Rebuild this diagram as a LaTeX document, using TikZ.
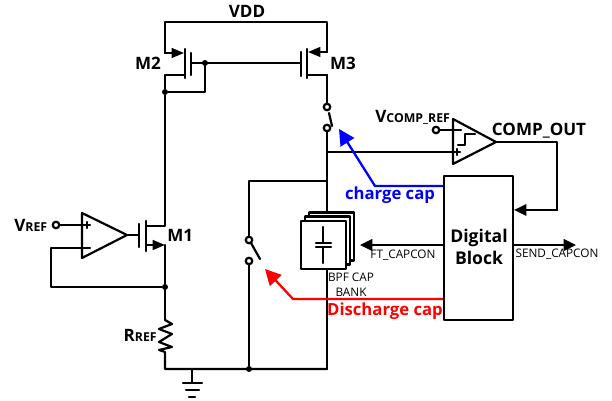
\documentclass[tikz,border=0pt]{standalone}
\usepackage{fontspec}
\usepackage{tikz}
\usetikzlibrary{arrows.meta}
\setmainfont{Open Sans}
\newcommand{\subtxt}[1]{{\fontsize{7}{8}\selectfont #1}}
\tikzset{
  wire/.style={black,line width=1.25pt,line cap=round,line join=round},
  pmos/.style={wire,-{Triangle[length=7pt,width=5.5pt]}},
  sigarrow/.style={wire,-{Triangle[length=7pt,width=6.5pt]}},
  ctrlarrow/.style={line width=1.3pt,-{Triangle[length=9pt,width=9pt]}},
  term/.style={draw,wire,fill=white,circle,minimum size=0.13cm},
  dot/.style={fill=black,circle,minimum size=0.12cm},
  lab/.style={font=\bfseries\fontsize{9.7}{11}\selectfont},
  tiny lab/.style={font=\fontsize{6.7}{8}\selectfont},
  ctrl lab/.style={font=\bfseries\fontsize{9.5}{11}\selectfont},
  bank/.style={draw,wire,fill=white,minimum width=0.9cm,minimum height=0.96cm}
}
\begin{document}
\begin{tikzpicture}[x=0.02cm,y=0.02cm]
\tikzstyle{every node}+=[inner sep=0pt]
\path [use as bounding box] (0,0) rectangle (612,-401);
% supply and current mirror
\coordinate (vddl) at (165,-22);
\coordinate (vddr) at (327,-22);
\coordinate (m2s) at (165,-53);
\coordinate (m2st) at (184,-53);
\coordinate (m2d) at (184,-75);
\coordinate (m2dl) at (165,-75);
\coordinate (m2g) at (191,-63);
\coordinate (m3g) at (301,-63);
\coordinate (m3s) at (327,-52);
\coordinate (m3st) at (308,-52);
\coordinate (m3d) at (307,-75);
\coordinate (m3dr) at (327,-75);
\coordinate (dgl) at (205,-92);
\node [dot] (gdot) at (205,-63) {};
\node [dot] (ddot) at (165,-92) {};
\draw [wire] (m2s) -- (vddl) -- (vddr) -- (m3s);
\draw [pmos] (m2s) -- (m2st);
\draw [pmos] (m3s) -- (m3st);
\draw [wire] (185,-49) -- (185,-78);
\draw [wire] (191,-53) -- (191,-75);
\draw [wire] (307,-49) -- (307,-78);
\draw [wire] (301,-52) -- (301,-76);
\draw [wire] (m2g) -- (m3g);
\draw [wire] (gdot) -- (dgl) -- (ddot);
\draw [wire] (m2d) -- (m2dl) -- (ddot);
\node [lab] (vdd) at (247,-11) {VDD};
\node [lab] (m2) at (148,-63) {M2};
\node [lab] (m3) at (343,-63) {M3};
% M1 and its amplifier
\coordinate (m1d) at (165,-226);
\coordinate (m1dl) at (146,-226);
\coordinate (m1s) at (165,-245);
\coordinate (m1sl) at (147,-245);
\coordinate (m1g) at (139,-235);
\coordinate (oa1) at (82,-213);
\coordinate (oa2) at (82,-258);
\coordinate (oa3) at (127,-235);
\coordinate (oap) at (88,-225);
\coordinate (oan) at (90,-248);
\coordinate (fbl) at (51,-287);
\coordinate (fbu) at (51,-248);
\coordinate (rtop) at (165,-320);
\coordinate (rbot) at (165,-352);
\coordinate (gndl) at (165,-369);
\coordinate (gndr) at (327,-369);
\coordinate (gnd) at (192,-369);
\coordinate (gndb) at (192,-383);
\node [term] (vref) at (56,-225) {};
\node [dot] (fbdot) at (165,-287) {};
\node [dot] (raildot) at (249,-369) {};
\draw [wire] (oa1) -- (oa2) -- (oa3) -- cycle;
\draw [wire] (vref) -- (oap);
\draw [wire] (84,-225) -- (90,-225);
\draw [wire] (87,-222) -- (87,-228);
\draw [wire] (oan) -- (fbu) -- (fbl) -- (fbdot);
\draw [wire] (oa3) -- (m1g);
\draw [wire] (139,-224) -- (139,-247);
\draw [wire] (146,-221) -- (146,-251);
\draw [wire] (ddot) -- (m1d) -- (m1dl);
\draw [pmos] (m1sl) -- (m1s);
\draw [wire] (m1s) -- (fbdot) -- (rtop);
\draw [wire] (rtop) -- (172,-324) -- (159,-329) -- (172,-334) -- (159,-342) -- (172,-347) -- (159,-350) -- (rbot) -- (gndl) -- (gndr);
\draw [wire] (gnd) -- (gndb);
\draw [wire] (183,-383) -- (202,-383);
\draw [wire] (186,-390) -- (199,-390);
\draw [wire] (189,-397) -- (195,-397);
\node [lab,anchor=west] (vreflab) at (14,-225) {V\subtxt{REF}};
\node [lab,anchor=west] (m1) at (167,-235) {M1};
\node [lab,anchor=east] (rref) at (157,-335) {R\subtxt{REF}};
% switches
\coordinate (swjoin) at (327,-181);
\coordinate (swcor) at (249,-181);
\coordinate (cmpin) at (327,-152);
\coordinate (cmpp) at (453,-152);
\coordinate (railb) at (327,-369);
\node [term] (sw1a) at (327,-107) {};
\node [term] (sw1b) at (327,-128) {};
\node [term] (sw2a) at (249,-240) {};
\node [term] (sw2b) at (249,-261) {};
\draw [wire] (m3dr) -- (sw1a);
\draw [wire] (m3d) -- (m3dr);
\draw [wire] (329,-113) -- (332,-126);
\draw [wire] (sw1b) -- (railb);
\draw [wire] (swjoin) -- (swcor) -- (sw2a);
\draw [wire] (251,-243) -- (260,-259);
\draw [wire] (sw2b) -- (raildot);
% capacitor bank
\node [bank] (bank3) at (331.5,-236.5) {};
\node [bank] (bank2) at (327.5,-240.5) {};
\node [bank] (bank1) at (323.5,-245) {};
\coordinate (captop) at (323,-227);
\coordinate (capbot) at (323,-263);
\draw [wire] (captop) -- (323,-243);
\draw [wire] (323,-247) -- (capbot);
\draw [wire] (316,-243) -- (331,-243);
\draw [wire] (316,-247) -- (331,-247);
\node [tiny lab] (bpf) at (351,-277) {BPF CAP};
\node [tiny lab] (banklab) at (351,-292) {BANK};
% comparator and digital block
\coordinate (cp1) at (453,-119);
\coordinate (cp2) at (453,-164);
\coordinate (cp3) at (496,-142);
\coordinate (outr) at (557,-142);
\coordinate (outd) at (557,-210);
\node [draw,wire,minimum width=1.38cm,minimum height=2.88cm] (digi) at (478.5,-248) {};
\node [lab,align=center,font=\bfseries\fontsize{10}{12.5}\selectfont] (digilab) at (479,-247) {Digital\\Block};
\node [term] (vcomp) at (436,-130) {};
\draw [wire] (cp1) -- (cp2) -- (cp3) -- cycle;
\draw [wire] (vcomp) -- (453,-130);
\draw [wire] (454,-130) -- (461,-130);
\draw [wire] (cmpin) -- (cmpp);
\draw [wire] (453,-152) -- (460,-152);
\draw [wire] (457,-149) -- (457,-155);
\draw [wire] (458,-145) -- (465,-145) -- (465,-134) -- (475,-134);
\draw [wire] (cp3) -- (outr) -- (outd);
\draw [sigarrow] (outd) -- (digi.east |- outd);
\draw [sigarrow] (digi.west |- 0,-245) -- (360,-245);
\draw [sigarrow] (digi.east |- 0,-245) -- (576,-245);
\node [lab,anchor=west] (vcomplab) at (375,-117) {V\subtxt{COMP\_REF}};
\node [lab] (compout) at (539,-131) {COMP\_OUT};
\node [tiny lab] (ftcap) at (403,-255) {FT\_CAPCON};
\node [tiny lab] (sendcap) at (557,-254) {SEND\_CAPCON};
% charge and discharge control
\coordinate (chgcor) at (375,-186);
\coordinate (chgtip) at (339,-129);
\coordinate (dchcor) at (293,-299);
\coordinate (dchtip) at (265,-269);
\draw [ctrlarrow,blue] (digi.west |- chgcor) -- (chgcor) -- (chgtip);
\draw [ctrlarrow,red] (digi.west |- dchcor) -- (dchcor) -- (dchtip);
\node [ctrl lab,text=blue] (chglab) at (390,-195) {charge cap};
\node [ctrl lab,text=red] (dchlab) at (385,-311) {Discharge cap};
\end{tikzpicture}
\end{document}
